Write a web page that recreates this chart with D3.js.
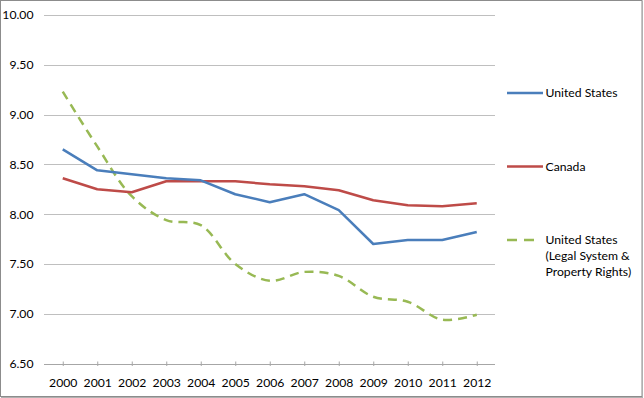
<!DOCTYPE html>
<html>
<head>
<meta charset="utf-8">
<script src="https://cdn.jsdelivr.net/npm/d3@7"></script>
<style>
  html, body { margin: 0; padding: 0; background: #fff; }
  svg { display: block; font-family: Lato, "Open Sans", sans-serif; }
</style>
</head>
<body>
<svg id="chart" width="644" height="398"></svg>
<script>
const years = ["2000","2001","2002","2003","2004","2005","2006","2007","2008","2009","2010","2011","2012"];
const unitedStates = [8.65, 8.44, 8.40, 8.36, 8.34, 8.20, 8.12, 8.20, 8.04, 7.70, 7.74, 7.74, 7.82];
const canada = [8.36, 8.25, 8.22, 8.33, 8.33, 8.33, 8.30, 8.28, 8.24, 8.14, 8.09, 8.08, 8.11];
const usLegal = [9.23, 8.68, 8.18, 7.94, 7.89, 7.50, 7.33, 7.42, 7.38, 7.17, 7.12, 6.94, 6.99];
const yTicks = [6.5, 7.0, 7.5, 8.0, 8.5, 9.0, 9.5, 10.0];
const seriesNames = ["United States", "Canada", "United States|(Legal System &|Property Rights)"];

const svg = d3.select("#chart");
const FS = 12.2;

// outer frame
svg.append("rect").attr("x", 0.5).attr("y", 0.5).attr("width", 641.5).attr("height", 396)
  .attr("fill", "#fff").attr("stroke", "#8c8c8c").attr("stroke-width", 1);
svg.append("line").attr("x1", 642.5).attr("x2", 642.5).attr("y1", 1).attr("y2", 397.5)
  .attr("stroke", "#b0b0b0").attr("stroke-width", 1);
svg.append("line").attr("x1", 1).attr("x2", 643).attr("y1", 397.5).attr("y2", 397.5)
  .attr("stroke", "#b0b0b0").attr("stroke-width", 1);

const plotLeft = 44, plotRight = 495;
const x = d3.scalePoint().domain(years).range([45.5, 494]).padding(0.5);
const y = d3.scaleLinear().domain([6.5, 10]).range([363.5, 15]);

// gridlines
svg.append("g").selectAll("line").data(yTicks.filter(t => t > 6.5)).join("line")
  .attr("x1", plotLeft).attr("x2", plotRight)
  .attr("y1", d => Math.round(y(d)) + 0.5).attr("y2", d => Math.round(y(d)) + 0.5)
  .attr("stroke", "#bfbfbf").attr("stroke-width", 1);

// y axis labels
const yAxis = d3.axisLeft(y).tickValues(yTicks).tickFormat(d3.format(".2f")).tickSize(0).tickPadding(0);
const gy = svg.append("g").attr("transform", `translate(33.5,0)`).call(yAxis);
gy.select(".domain").remove();
gy.selectAll("text").attr("font-size", FS).attr("fill", "#000").attr("font-family", "Lato, sans-serif");

// x axis
const xAxis = d3.axisBottom(x).tickSize(0).tickPadding(0);
const gx = svg.append("g").attr("transform", `translate(0,${Math.round(y(6.5)) + 0.5})`).call(xAxis);
gx.select(".domain").attr("d", `M${plotLeft},0H${plotRight}`).attr("stroke", "#a6a6a6");
gx.selectAll(".tick line").attr("y1", -3).attr("y2", 1.5).attr("stroke", "#a6a6a6");
gx.selectAll("text").attr("font-size", FS).attr("fill", "#000").attr("dy", "0").attr("y", 22.5)
  .attr("font-family", "Lato, sans-serif");

// lines
const straight = d3.line().x((d, i) => x(years[i])).y(d => y(d));
const smooth = d3.line().x((d, i) => x(years[i])).y(d => y(d)).curve(d3.curveCatmullRom.alpha(0.5));

svg.append("path").datum(usLegal).attr("d", smooth).attr("fill", "none")
  .attr("stroke", "#98b954").attr("stroke-width", 2.5).attr("stroke-dasharray", "9,6");
svg.append("path").datum(canada).attr("d", straight).attr("fill", "none")
  .attr("stroke", "#be4b48").attr("stroke-width", 2.5).attr("stroke-linejoin", "round");
svg.append("path").datum(unitedStates).attr("d", straight).attr("fill", "none")
  .attr("stroke", "#4a7ebb").attr("stroke-width", 2.5).attr("stroke-linejoin", "round");

// legend
const legend = [
  { name: seriesNames[0], color: "#4a7ebb", dash: null, y: 93 },
  { name: seriesNames[1], color: "#be4b48", dash: null, y: 166.5 },
  { name: seriesNames[2], color: "#98b954", dash: "10,7", y: 240 }
];
const lg = svg.append("g");
legend.forEach(l => {
  lg.append("line").attr("x1", 507).attr("x2", l.dash ? 534 : 543).attr("y1", l.y).attr("y2", l.y)
    .attr("stroke", l.color).attr("stroke-width", 2.5).attr("stroke-dasharray", l.dash);
  const t = lg.append("text").attr("x", 545.5).attr("y", l.y).attr("font-size", FS)
    .attr("fill", "#000").attr("font-family", "Lato, sans-serif");
  l.name.split("|").forEach((s, i) => {
    t.append("tspan").attr("x", 545.5).attr("y", l.y + i * 16).attr("dy", "0.35em").text(s);
  });
});
</script>
</body>
</html>
